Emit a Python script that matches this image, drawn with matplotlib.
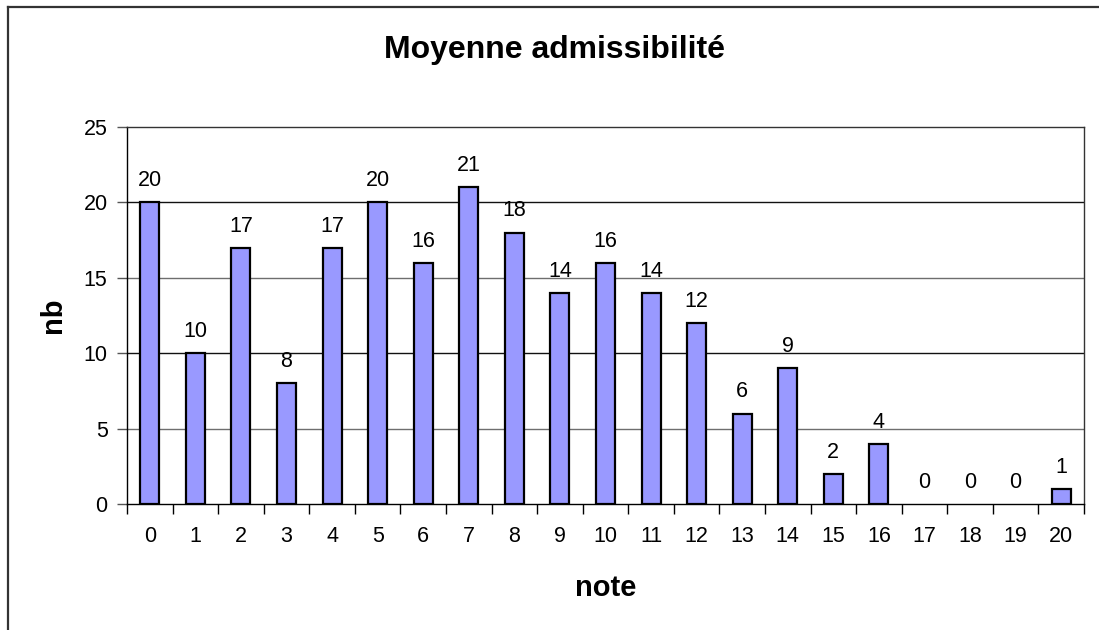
import matplotlib
matplotlib.use("Agg")
import matplotlib.pyplot as plt
from matplotlib.lines import Line2D
import numpy as np

notes = list(range(21))
counts = [20, 10, 17, 8, 17, 20, 16, 21, 18, 14, 16, 14, 12, 6, 9, 2, 4, 0, 0, 0, 1]
yticks = [0, 5, 10, 15, 20, 25]
title = "Moyenne admissibilité"
xlabel = "note"
ylabel = "nb"

plt.rcParams['font.family'] = ['Liberation Sans', 'DejaVu Sans']

W, H = 1099, 630
fig = plt.figure(figsize=(W / 100, H / 100), dpi=100)
fig.patch.set_facecolor('white')

L, R, B, T = 127, 1084, 504, 127
ax = fig.add_axes([L / W, 1 - B / H, (R - L) / W, (B - T) / H])

x = np.arange(len(notes))
lws = [1.6 if v > 0 else 0 for v in counts]
ax.bar(x, counts, width=0.42, color='#9999FF', edgecolor='black',
       linewidth=lws, zorder=3)
for xi, v in zip(x, counts):
    ax.annotate(str(v), (xi, v), xytext=(0, 8), textcoords='offset points',
                ha='center', va='bottom', fontsize=15.5, color='black', zorder=4)

ax.set_xlim(-0.5, len(notes) - 0.5)
ax.set_ylim(0, 25)
ax.set_yticks(yticks)
ax.set_yticklabels([str(t) for t in yticks])
ax.set_xticks(x)
ax.set_xticklabels([str(n) for n in notes])
ax.set_xticks(np.arange(-0.5, len(notes), 1.0), minor=True)
ax.tick_params(axis='x', which='major', length=0, pad=16, labelsize=15.5)
ax.tick_params(axis='x', which='minor', length=7, width=1, direction='out', color='black')
ax.tick_params(axis='y', which='major', length=7, width=1, direction='out', pad=7,
               labelsize=15.5, color='#555555')

for i, v in enumerate(yticks[1:-1]):
    ax.axhline(v, color='#6e6e6e' if i % 2 == 0 else '#111111', linewidth=1.0, zorder=1)
for s in ax.spines.values():
    s.set_color('black')
    s.set_linewidth(1.0)
ax.spines['top'].set_color('#333333')
ax.spines['right'].set_color('#333333')

fig.text(555 / W, 1 - 58 / H, title, ha='center', va='baseline',
         fontsize=23, fontweight='bold')
fig.text(606 / W, 1 - 596 / H, xlabel, ha='center', va='baseline',
         fontsize=21, fontweight='bold')
fig.text(52.5 / W, 1 - 315.5 / H, ylabel, ha='center', va='center',
         rotation=90, fontsize=21, fontweight='bold')

# outer chart border (left and top edges visible)
fig.add_artist(Line2D([8 / W, 8 / W], [0, 1 - 7 / H], transform=fig.transFigure,
                      color='#333333', linewidth=1.6))
fig.add_artist(Line2D([8 / W, 1], [1 - 7 / H, 1 - 7 / H], transform=fig.transFigure,
                      color='#333333', linewidth=1.6))

fig.savefig('out.png', dpi=100, facecolor='white')
